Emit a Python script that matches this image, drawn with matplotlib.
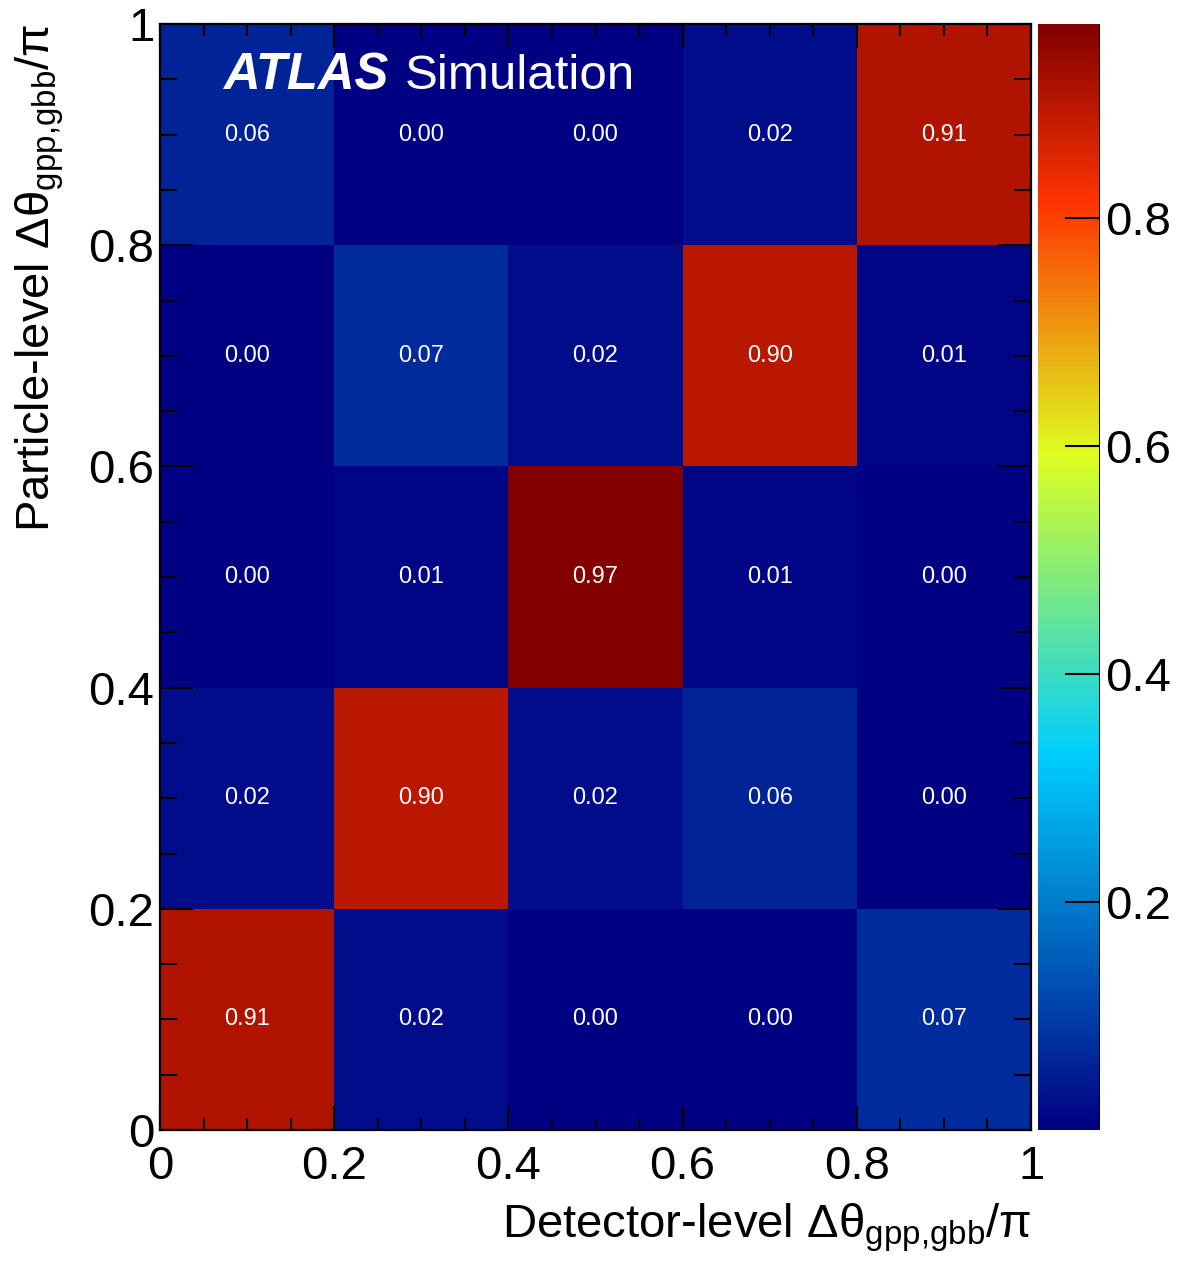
import numpy as np
import matplotlib
matplotlib.use("Agg")
import matplotlib.pyplot as plt
from matplotlib.colors import LinearSegmentedColormap, Normalize
from matplotlib.ticker import MultipleLocator, FixedLocator, FixedFormatter

plt.rcParams["font.family"] = ["Liberation Sans", "DejaVu Sans"]
plt.rcParams["mathtext.fontset"] = "custom"
plt.rcParams["mathtext.rm"] = "Liberation Sans"
plt.rcParams["mathtext.it"] = "Liberation Sans:italic"
plt.rcParams["mathtext.bf"] = "Liberation Sans:bold"

# Bin edges (in units of pi)
x_edges = [0.0, 0.2, 0.4, 0.6, 0.8, 1.0]
y_edges = [0.0, 0.2, 0.4, 0.6, 0.8, 1.0]

# Migration matrix: rows = particle-level bins (bottom to top),
# columns = detector-level bins (left to right)
row_0 = [0.91, 0.02, 0.00, 0.00, 0.07]
row_1 = [0.02, 0.90, 0.02, 0.06, 0.00]
row_2 = [0.00, 0.01, 0.97, 0.01, 0.00]
row_3 = [0.00, 0.07, 0.02, 0.90, 0.01]
row_4 = [0.06, 0.00, 0.00, 0.02, 0.91]

tick_values = [0.0, 0.2, 0.4, 0.6, 0.8, 1.0]
tick_labels = ["0", "0.2", "0.4", "0.6", "0.8", "1"]
cbar_ticks = [0.2, 0.4, 0.6, 0.8]
cbar_labels = ["0.2", "0.4", "0.6", "0.8"]

matrix = np.array([row_0, row_1, row_2, row_3, row_4])

# Rainbow gradient palette
stops = [0.00, 0.34, 0.61, 0.84, 1.00]
red = [0.00, 0.00, 0.87, 1.00, 0.51]
green = [0.00, 0.81, 1.00, 0.20, 0.00]
blue = [0.51, 1.00, 0.12, 0.00, 0.00]
cmap = LinearSegmentedColormap.from_list(
    "rainbow_grad", [(s, (r, g, b)) for s, r, g, b in zip(stops, red, green, blue)], N=255
)

W, H = 1181, 1261
fig = plt.figure(figsize=(W / 100, H / 100), dpi=100)

def frac_box(x0, y0, x1, y1):
    return [x0 / W, 1 - y1 / H, (x1 - x0) / W, (y1 - y0) / H]

ax = fig.add_axes(frac_box(160, 24, 1031, 1130))
cax = fig.add_axes(frac_box(1038, 24, 1100, 1130))

norm = Normalize(vmin=0.0, vmax=matrix.max())
mesh = ax.pcolormesh(x_edges, y_edges, matrix, cmap=cmap, norm=norm,
                     shading="flat", antialiased=False, linewidth=0)

xc = 0.5 * (np.array(x_edges[:-1]) + np.array(x_edges[1:]))
yc = 0.5 * (np.array(y_edges[:-1]) + np.array(y_edges[1:]))
for i, yv in enumerate(yc):
    for j, xv in enumerate(xc):
        ax.text(xv, yv, f"{matrix[i, j]:.2f}", color="white", fontsize=17,
                ha="center", va="center")

ax.set_xlim(0, 1)
ax.set_ylim(0, 1)
ax.xaxis.set_major_locator(FixedLocator(tick_values))
ax.xaxis.set_major_formatter(FixedFormatter(tick_labels))
ax.yaxis.set_major_locator(FixedLocator(tick_values))
ax.yaxis.set_major_formatter(FixedFormatter(tick_labels))
ax.xaxis.set_minor_locator(MultipleLocator(0.05))
ax.yaxis.set_minor_locator(MultipleLocator(0.05))

ax.tick_params(axis="both", which="both", direction="in", top=True, right=True,
               width=1.5, color="black")
ax.tick_params(axis="x", which="major", length=17, pad=11, labelsize=34)
ax.tick_params(axis="x", which="minor", length=8.5)
ax.tick_params(axis="y", which="major", length=24, pad=4, labelsize=34)
ax.tick_params(axis="y", which="minor", length=12)
for sp in ax.spines.values():
    sp.set_linewidth(1.6)

# Colour scale
cbar = fig.colorbar(mesh, cax=cax)
cbar.outline.set_visible(False)
cax.axvline(1.0, color="black", lw=1.4)
cbar.set_ticks(cbar_ticks)
cbar.set_ticklabels(cbar_labels)
cax.yaxis.set_minor_locator(FixedLocator([]))
cax.tick_params(axis="y", which="major", direction="in", length=25, width=1.5,
                pad=4, labelsize=34, right=True, left=False)

# Axis titles
fig.text(1031 / W, 1 - 1237 / H,
         r"Detector-level Δθ$_{\mathrm{gpp{,}gbb}}$/π",
         fontsize=34, ha="right", va="baseline")
fig.text(14 / W, 1 - 24 / H,
         r"Particle-level Δθ$_{\mathrm{gpp{,}gbb}}$/π",
         fontsize=34, rotation=90, ha="left", va="top")

# Experiment label
fig.text(223 / W, 1 - 89 / H, "ATLAS", color="white", fontsize=36.5,
         fontweight="bold", fontstyle="italic", ha="left", va="baseline")
fig.text(405 / W, 1 - 89 / H, "Simulation", color="white", fontsize=35.5,
         ha="left", va="baseline")

fig.savefig("out.png", dpi=100)
